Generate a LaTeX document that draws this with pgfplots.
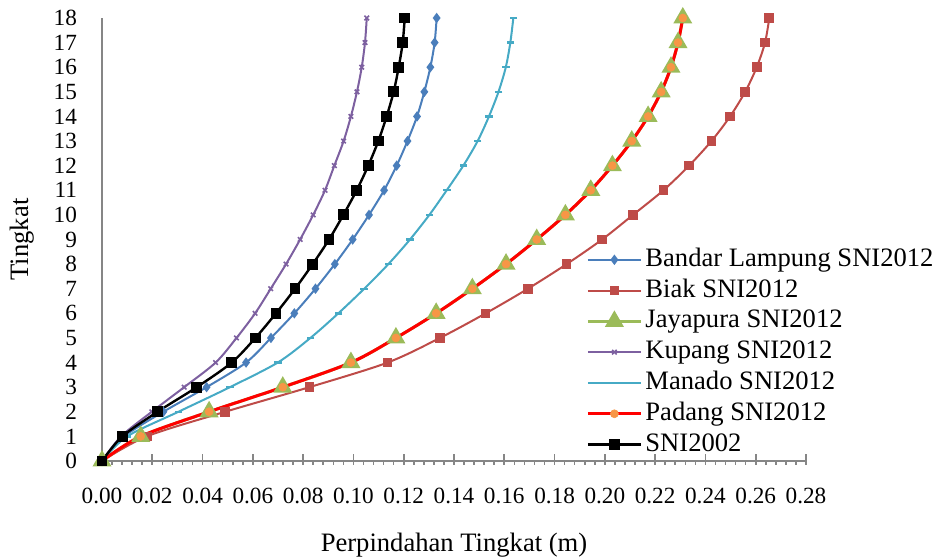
\documentclass[border=0pt]{standalone}
\usepackage{pgfplots}
\pgfplotsset{compat=1.18}
\usepackage{fontspec}
\setmainfont{Liberation Serif}

\definecolor{cBandar}{HTML}{4A7EBB}
\definecolor{cBiak}{HTML}{BE4B48}
\definecolor{cJaya}{HTML}{9BBB59}
\definecolor{cKupang}{HTML}{7D60A0}
\definecolor{cManado}{HTML}{46AAC5}
\definecolor{cPadangM}{HTML}{F79646}
\definecolor{axisgray}{HTML}{868686}

\begin{document}
\begin{tikzpicture}
\useasboundingbox (-51pt,-49.5pt) rectangle (417.5pt,230.5pt);
\begin{axis}[
  at={(0,0)}, anchor=south west,
  scale only axis, width=352pt, height=221.5pt,
  xmin=0, xmax=0.28, ymin=0, ymax=18,
  axis lines*=left,
  axis line style={draw=axisgray, line width=1pt},
  xtick={0,0.02,...,0.28},
  ytick={0,1,...,18},
  minor x tick num=4,
  tick align=outside,
  major tick length=2pt, minor tick length=2pt,
  x tick style={draw=axisgray, line width=0.8pt},
  y tick style={draw=none},
  extra x ticks={0.02,0.04,...,0.28},
  extra x tick labels={},
  extra x tick style={tick align=inside, major tick length=3.5pt},
  /pgf/number format/assume math mode=true,
  x tick label style={/pgf/number format/fixed, /pgf/number format/fixed zerofill, /pgf/number format/precision=2},
  ticklabel style={font=\fontsize{11.6}{13}\selectfont},
  xticklabel style={anchor=base, yshift=-19.5pt},
  yticklabel style={anchor=east, xshift=-7pt},
  xlabel={Perpindahan Tingkat (m)},
  ylabel={Tingkat},
  every axis x label/.style={at={(axis description cs:0.5,0)}, anchor=base, yshift=-45.3pt, font=\fontsize{13.3}{15}\selectfont},
  every axis y label/.style={at={(axis description cs:-0.114,0.5)}, anchor=center, rotate=90, font=\fontsize{13.3}{15}\selectfont},
  legend style={at={(axis cs:0.1925,8.7)}, anchor=north west, draw=none, fill=none,
    inner sep=0pt, row sep=2.9pt,
    font=\fontsize{13.3}{15}\selectfont,
    nodes={inner ysep=0pt, inner xsep=1.5pt, text height=9.5pt, text depth=3pt}},
  legend cell align=left,
  legend image code/.code={\draw[mark repeat=2, mark phase=2, #1] plot coordinates {(0pt,0pt) (13.25pt,0pt) (26.5pt,0pt)};},
  every axis plot/.append style={smooth},
]
% Bandar Lampung SNI2012
\addplot[color=cBandar, line width=1pt, mark=diamond*, mark size=1.8pt, mark options={fill=cBandar, solid}] coordinates {
(0,0) (0.0088,1) (0.0244,2) (0.0416,3) (0.0573,4) (0.0672,5) (0.0765,6) (0.0849,7) (0.0926,8) (0.0997,9)
(0.1062,10) (0.1122,11) (0.1172,12) (0.1215,13) (0.1253,14) (0.1282,15) (0.1306,16) (0.1323,17) (0.1331,18)};
\addlegendentry{Bandar Lampung SNI2012}
% Biak SNI2012
\addplot[color=cBiak, line width=1pt, mark=square*, mark size=1.9pt, mark options={fill=cBiak}] coordinates {
(0,0) (0.0178,1) (0.0490,2) (0.0825,3) (0.1136,4) (0.1344,5) (0.1526,6) (0.1694,7) (0.1848,8) (0.1989,9)
(0.2112,10) (0.2233,11) (0.2335,12) (0.2424,13) (0.2498,14) (0.2558,15) (0.2604,16) (0.2637,17) (0.2654,18)};
\addlegendentry{Biak SNI2012}
% Jayapura SNI2012
\addplot[color=cJaya, line width=1.5pt, mark=triangle*, mark size=4pt, mark options={fill=cJaya}] coordinates {
(0,0) (0.0154,1) (0.0426,2) (0.0719,3) (0.0990,4) (0.1169,5) (0.1329,6) (0.1473,7) (0.1607,8) (0.1729,9)
(0.1843,10) (0.1944,11) (0.2030,12) (0.2107,13) (0.2172,14) (0.2224,15) (0.2263,16) (0.2291,17) (0.2310,18)};
\addlegendentry{Jayapura SNI2012}
% Kupang SNI2012
\addplot[color=cKupang, line width=1pt, mark=x, mark size=1.6pt, mark options={line width=0.8pt}] coordinates {
(0,0) (0.0076,1) (0.0198,2) (0.0327,3) (0.0452,4) (0.0535,5) (0.0609,6) (0.0671,7) (0.0732,8) (0.0788,9)
(0.0840,10) (0.0887,11) (0.0924,12) (0.0961,13) (0.0990,14) (0.1014,15) (0.1033,16) (0.1046,17) (0.1053,18)};
\addlegendentry{Kupang SNI2012}
% Manado SNI2012
\addplot[color=cManado, line width=1pt, mark=-, mark size=1.9pt, mark options={line width=1.2pt}] coordinates {
(0,0) (0.0100,1) (0.0304,2) (0.0509,3) (0.0699,4) (0.0829,5) (0.0940,6) (0.1043,7) (0.1139,8) (0.1225,9)
(0.1302,10) (0.1371,11) (0.1437,12) (0.1494,13) (0.1539,14) (0.1577,15) (0.1606,16) (0.1624,17) (0.1636,18)};
\addlegendentry{Manado SNI2012}
% Padang SNI2012
\addplot[color=red, line width=1.5pt, mark=*, mark size=2pt, mark options={draw=cPadangM, fill=cPadangM, line width=0.3pt}] coordinates {
(0,0) (0.0154,1) (0.0426,2) (0.0719,3) (0.0990,4) (0.1169,5) (0.1329,6) (0.1473,7) (0.1607,8) (0.1729,9)
(0.1843,10) (0.1944,11) (0.2030,12) (0.2107,13) (0.2172,14) (0.2224,15) (0.2263,16) (0.2291,17) (0.2310,18)};
\addlegendentry{Padang SNI2012}
% SNI2002
\addplot[color=black, line width=1.2pt, mark=square*, mark size=2.1pt, mark options={fill=black}] coordinates {
(0,0) (0.0081,1) (0.0221,2) (0.0377,3) (0.0516,4) (0.0610,5) (0.0692,6) (0.0768,7) (0.0838,8) (0.0903,9)
(0.0960,10) (0.1013,11) (0.1059,12) (0.1099,13) (0.1132,14) (0.1160,15) (0.1180,16) (0.1196,17) (0.1204,18)};
\addlegendentry{SNI2002}
\end{axis}
\end{tikzpicture}
\end{document}
